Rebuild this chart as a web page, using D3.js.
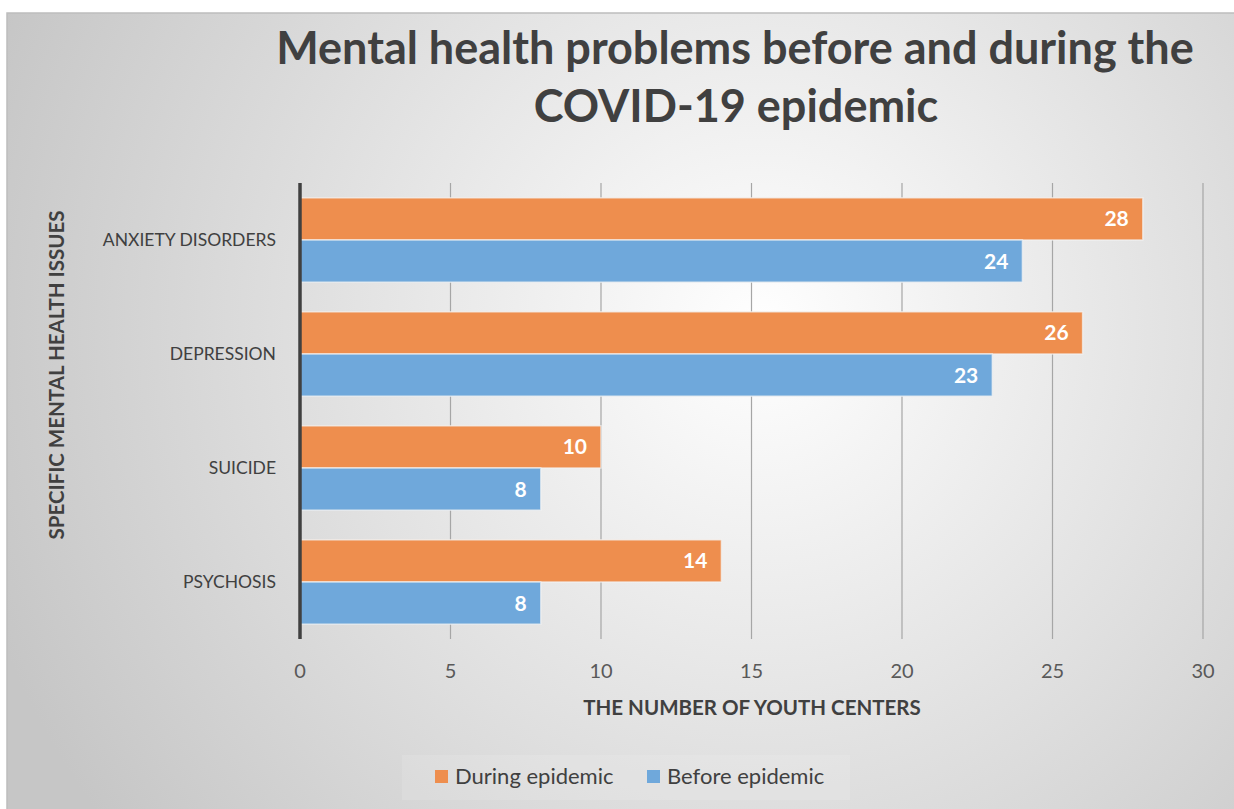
<!DOCTYPE html>
<html>
<head>
<meta charset="utf-8">
<script src="https://cdn.jsdelivr.net/npm/d3@7"></script>
<style>
  html, body { margin: 0; padding: 0; background: #fff; }
  svg { display: block; font-family: Lato, "Open Sans", sans-serif; }
</style>
</head>
<body>
<svg id="chart" width="1234" height="809"></svg>
<script>
const categories = ['ANXIETY DISORDERS', 'DEPRESSION', 'SUICIDE', 'PSYCHOSIS'];
const seriesNames = ['During epidemic', 'Before epidemic'];
const duringValues = [28, 26, 10, 14];
const beforeValues = [24, 23, 8, 8];
const xTicks = [0, 5, 10, 15, 20, 25, 30];
const colors = ['#EE8E4E', '#6FA8DB'];

const svg = d3.select('#chart');
const margin = { left: 300, right: 31, top: 183, bottom: 170 };
const width = 1234, height = 809;

// background with soft radial gradient
const defs = svg.append('defs');
const grad = defs.append('radialGradient')
    .attr('id', 'bg')
    .attr('gradientUnits', 'userSpaceOnUse')
    .attr('cx', 760).attr('cy', 330).attr('r', 820);
grad.append('stop').attr('offset', '0%').attr('stop-color', '#ffffff');
grad.append('stop').attr('offset', '100%').attr('stop-color', '#c6c6c6');

svg.append('rect')
    .attr('x', 7).attr('y', 13)
    .attr('width', width).attr('height', height)
    .attr('fill', 'url(#bg)')
    .attr('stroke', '#bdbdbd')
    .attr('stroke-width', 1.5);

const x = d3.scaleLinear().domain([0, 30]).range([margin.left, width - margin.right]);
const y = d3.scaleBand().domain(categories).range([margin.top, height - margin.bottom]).paddingInner(0.26).paddingOuter(0.13);
const sub = d3.scaleBand().domain(seriesNames).range([0, y.bandwidth()]);

// gridlines
svg.append('g')
    .selectAll('line')
    .data(xTicks.slice(1))
    .join('line')
    .attr('x1', d => x(d)).attr('x2', d => x(d))
    .attr('y1', margin.top).attr('y2', height - margin.bottom)
    .attr('stroke', '#a6a6a6')
    .attr('stroke-width', 1.2);

// bars
const rows = categories.map((c, i) => ({ cat: c, vals: [duringValues[i], beforeValues[i]] }));
const group = svg.append('g')
    .selectAll('g')
    .data(rows)
    .join('g')
    .attr('transform', d => `translate(0,${y(d.cat)})`);

group.selectAll('rect')
    .data(d => d.vals.map((v, j) => ({ v, s: seriesNames[j], j })))
    .join('rect')
    .attr('x', x(0))
    .attr('y', d => sub(d.s))
    .attr('width', d => x(d.v) - x(0))
    .attr('height', sub.bandwidth())
    .attr('fill', d => colors[d.j])
    .attr('stroke', '#f4f4f4')
    .attr('stroke-opacity', 0.7)
    .attr('stroke-width', 1.5);

group.selectAll('text')
    .data(d => d.vals.map((v, j) => ({ v, s: seriesNames[j], j })))
    .join('text')
    .attr('x', d => x(d.v) - 14)
    .attr('y', d => sub(d.s) + sub.bandwidth() / 2)
    .attr('dy', '0.36em')
    .attr('text-anchor', 'end')
    .attr('fill', '#ffffff')
    .attr('font-weight', 'bold')
    .attr('font-size', 21)
    .text(d => d.v);

// y axis line
svg.append('line')
    .attr('x1', x(0)).attr('x2', x(0))
    .attr('y1', margin.top).attr('y2', height - margin.bottom)
    .attr('stroke', '#404040')
    .attr('stroke-width', 3.5);

// category labels
svg.append('g')
    .selectAll('text')
    .data(categories)
    .join('text')
    .attr('x', 276)
    .attr('y', d => y(d) + y.bandwidth() / 2)
    .attr('dy', '0.36em')
    .attr('text-anchor', 'end')
    .attr('fill', '#404040')
    .attr('font-size', 17.5)
    .text(d => d);

// x tick labels
svg.append('g')
    .selectAll('text')
    .data(xTicks)
    .join('text')
    .attr('x', d => x(d))
    .attr('y', 678)
    .attr('text-anchor', 'middle')
    .attr('fill', '#595959')
    .attr('font-size', 20)
    .text(d => d);

// axis titles
svg.append('text')
    .attr('x', 752).attr('y', 715)
    .attr('text-anchor', 'middle')
    .attr('fill', '#404040')
    .attr('font-weight', 'bold')
    .attr('font-size', 20.5)
    .text('THE NUMBER OF YOUTH CENTERS');

svg.append('text')
    .attr('transform', 'translate(64,375) rotate(-90)')
    .attr('text-anchor', 'middle')
    .attr('fill', '#404040')
    .attr('font-weight', 'bold')
    .attr('font-size', 20.5)
    .text('SPECIFIC MENTAL HEALTH ISSUES');

// title
const title = svg.append('text')
    .attr('text-anchor', 'middle')
    .attr('fill', '#404040')
    .attr('font-weight', 'bold')
    .attr('font-size', 45);
title.append('tspan').attr('x', 735).attr('y', 64).text('Mental health problems before and during the');
title.append('tspan').attr('x', 736).attr('y', 122).text('COVID-19 epidemic');

// legend
svg.append('rect')
    .attr('x', 402).attr('y', 755)
    .attr('width', 448).attr('height', 45)
    .attr('fill', '#ffffff')
    .attr('fill-opacity', 0.12);

const legend = svg.append('g')
    .selectAll('g')
    .data(seriesNames)
    .join('g')
    .attr('transform', (d, i) => `translate(${i === 0 ? 435 : 647},770)`);

legend.append('rect')
    .attr('width', 13).attr('height', 13)
    .attr('fill', (d, i) => colors[i]);

legend.append('text')
    .attr('x', 20).attr('y', 6.5)
    .attr('dy', '0.36em')
    .attr('fill', '#404040')
    .attr('font-size', 22)
    .text(d => d);
</script>
</body>
</html>
